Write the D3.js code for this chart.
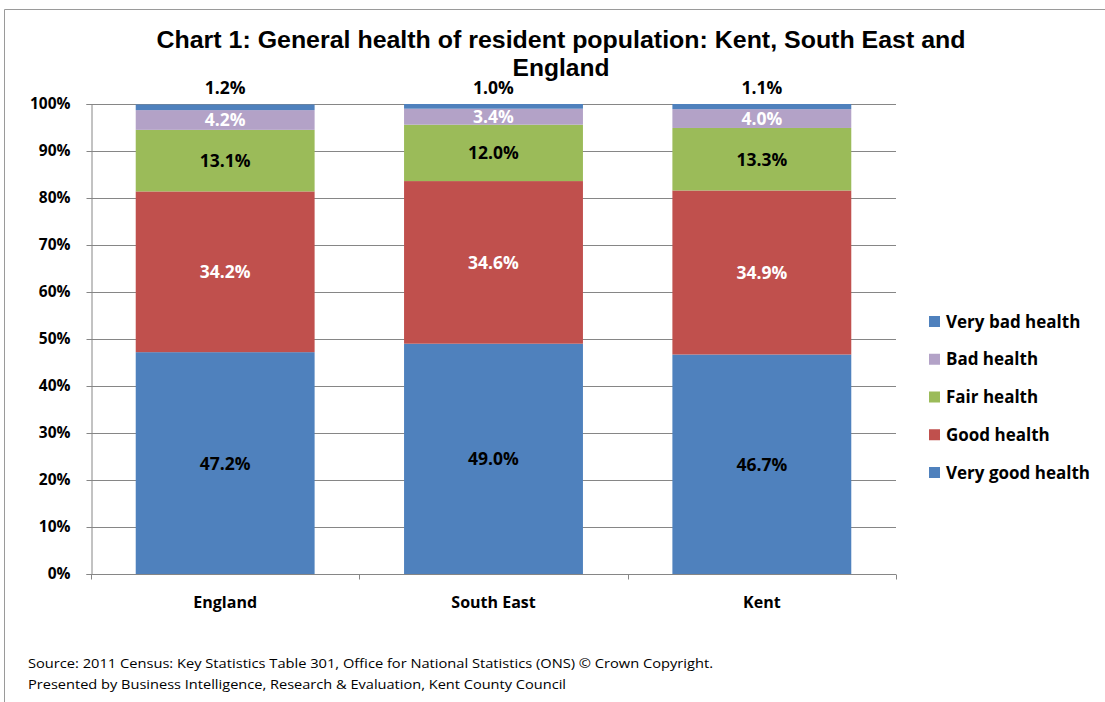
<!DOCTYPE html>
<html><head><meta charset="utf-8">
<script src="https://cdn.jsdelivr.net/npm/d3@7/dist/d3.min.js"></script>
<style>
body{margin:0;background:#fff;}
svg{display:block;}
</style></head>
<body>
<svg id="chart" width="1105" height="702"></svg>
<script>
const categories = ["England", "South East", "Kent"];
const seriesNames = ["Very good health", "Good health", "Fair health", "Bad health", "Very bad health"];
const veryGood = [47.2, 49.0, 46.7];
const good = [34.2, 34.6, 34.9];
const fair = [13.1, 12.0, 13.3];
const bad = [4.2, 3.4, 4.0];
const veryBad = [1.2, 1.0, 1.1];
const seriesColors = ["#4F81BD", "#C0504D", "#9BBB59", "#B3A2C7", "#4F81BD"];
const labelColors = ["#000", "#fff", "#000", "#fff", "#000"];
const yTicks = [0,10,20,30,40,50,60,70,80,90,100];
const legendOrder = ["Very bad health", "Bad health", "Fair health", "Good health", "Very good health"];

const seriesValues = [veryGood, good, fair, bad, veryBad];
const rows = categories.map((c,i)=>{
  const r = {cat:c};
  seriesNames.forEach((s,k)=>{ r[s] = seriesValues[k][i]; });
  return r;
});

const svg = d3.select("#chart");
const labelFont = "'Open Sans', Lato, sans-serif";

// frame
svg.append("path").attr("d","M4.5,702 V9.5 H1105").attr("fill","none").attr("stroke","#9a9a9a").attr("stroke-width",1);

const x0 = 91, x1 = 896, yTop = 104, yBot = 574;
const x = d3.scaleBand().domain(categories).range([x0,x1]).paddingInner(1/3).paddingOuter(1/6);
const y = d3.scaleLinear().domain([0,100]).range([yBot,yTop]);

// grid
svg.append("g").selectAll("line").data(yTicks.filter(t=>t>0)).join("line")
  .attr("x1",x0).attr("x2",x1).attr("y1",d=>Math.round(y(d))+0.5).attr("y2",d=>Math.round(y(d))+0.5)
  .attr("stroke","#868686").attr("stroke-width",1);

// y axis
const yAxis = svg.append("g").attr("transform",`translate(${x0+0.5},0)`)
  .call(d3.axisLeft(y).tickValues(yTicks).tickSize(5).tickPadding(16).tickFormat(d=>d+"%"));
yAxis.select(".domain").attr("stroke","#868686");
yAxis.selectAll(".tick line").attr("stroke","#868686");
yAxis.selectAll(".tick text").attr("font-family",labelFont).attr("font-weight","bold").attr("font-size","15.5px").attr("fill","#000");

// stacks
const stack = d3.stack().keys(seriesNames);
const stacked = stack(rows);
const g = svg.append("g");
stacked.forEach((layer,k)=>{
  g.append("g").selectAll("rect").data(layer).join("rect")
    .attr("x",d=>x(d.data.cat)).attr("width",x.bandwidth())
    .attr("y",d=>y(d[1])).attr("height",d=>y(d[0])-y(d[1]))
    .attr("fill",seriesColors[k]);
});

// x axis
const xAxisG = svg.append("g").attr("transform",`translate(0,${yBot+0.5})`);
xAxisG.append("line").attr("x1",x0).attr("x2",x1).attr("stroke","#868686");
const step = x.step();
const bounds = d3.range(categories.length+1).map(i=>x0 + i*step);
xAxisG.selectAll("line.t").data(bounds).join("line").attr("class","t")
  .attr("x1",d=>Math.round(d)+0.5).attr("x2",d=>Math.round(d)+0.5).attr("y1",0).attr("y2",5).attr("stroke","#868686");
xAxisG.selectAll("text").data(categories).join("text")
  .attr("x",d=>x(d)+x.bandwidth()/2).attr("y",33)
  .attr("text-anchor","middle").attr("font-family",labelFont).attr("font-weight","bold").attr("font-size","16px").text(d=>d);

// data labels
stacked.forEach((layer,k)=>{
  const isTop = k===seriesNames.length-1;
  g.append("g").selectAll("text").data(layer).join("text")
    .attr("x",d=>x(d.data.cat)+x.bandwidth()/2)
    .attr("y",d=> isTop ? y(d[1]) - 10 : (y(d[0])+y(d[1]))/2 + 6.5)
    .attr("text-anchor","middle").attr("font-family",labelFont).attr("font-weight","bold").attr("font-size","17.5px")
    .attr("fill",labelColors[k])
    .text(d=>(d[1]-d[0]).toFixed(1)+"%");
});

// legend
const leg = svg.append("g");
legendOrder.forEach((name,i)=>{
  const k = seriesNames.indexOf(name);
  const cy = 321 + i*37.75;
  leg.append("rect").attr("x",929).attr("y",cy-5).attr("width",11).attr("height",11).attr("fill",seriesColors[k]);
  leg.append("text").attr("x",946).attr("y",cy+6.5).attr("font-family",labelFont).attr("font-weight","bold").attr("font-size","17px").text(name);
});

// title
svg.append("text").attr("x",561).attr("y",48).attr("text-anchor","middle")
  .attr("font-family","'Liberation Sans', Arial, sans-serif").attr("font-weight","bold").attr("font-size","24px")
  .attr("textLength",809).attr("lengthAdjust","spacingAndGlyphs")
  .text("Chart 1: General health of resident population: Kent, South East and");
svg.append("text").attr("x",561).attr("y",76).attr("text-anchor","middle")
  .attr("font-family","'Liberation Sans', Arial, sans-serif").attr("font-weight","bold").attr("font-size","24px")
  .attr("textLength",97).attr("lengthAdjust","spacingAndGlyphs")
  .text("England");

// source
svg.append("text").attr("x",28).attr("y",668).attr("font-family",labelFont).attr("font-size","13px")
  .attr("textLength",685).attr("lengthAdjust","spacingAndGlyphs")
  .text("Source: 2011 Census: Key Statistics Table 301, Office for National Statistics (ONS) © Crown Copyright.");
svg.append("text").attr("x",28).attr("y",689).attr("font-family",labelFont).attr("font-size","13px")
  .attr("textLength",538).attr("lengthAdjust","spacingAndGlyphs")
  .text("Presented by Business Intelligence, Research & Evaluation, Kent County Council");
</script>
</body></html>
